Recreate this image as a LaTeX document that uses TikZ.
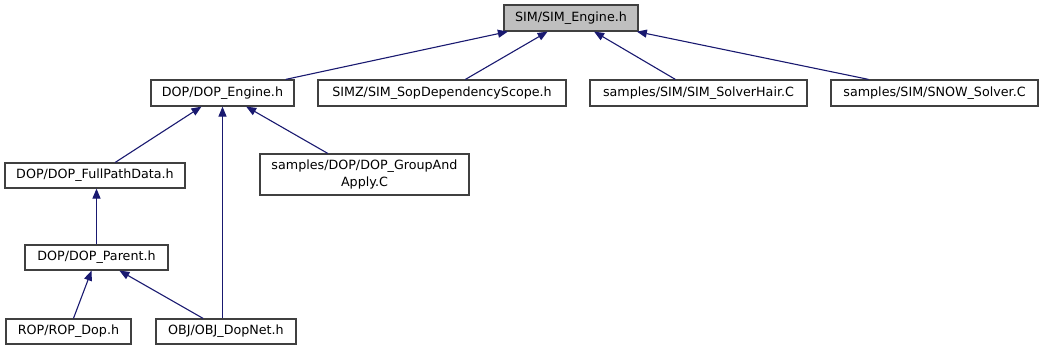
\documentclass[tikz,border=0pt]{standalone}
\usepackage{fontspec}
\setmainfont{DejaVu Sans}
\usetikzlibrary{arrows.meta}
\definecolor{edgeblue}{HTML}{191970}
\definecolor{boxgray}{HTML}{404040}
\definecolor{rootfill}{HTML}{BFBFBF}
\tikzset{
  file/.style={draw=boxgray, line width=1.2pt, fill=white, inner sep=0pt,
    minimum height=25pt, align=center, font=\fontsize{12.7}{17}\selectfont},
  rootfile/.style={file, fill=rootfill},
  incl/.style={draw=edgeblue, line width=1.1pt,
    -{Triangle[length=10pt,width=8pt]}}
}
\begin{document}
\begin{tikzpicture}[x=1pt,y=-1pt]
\useasboundingbox (0,0) rectangle (1049,351);
\node[rootfile, minimum width=134pt, minimum height=26pt] (simeng) at (571,18) {SIM/SIM\_Engine.h};
\node[file, minimum width=143pt, minimum height=26pt] (dopeng) at (222.5,93) {DOP/DOP\_Engine.h};
\node[file, minimum width=248pt, minimum height=26pt] (sopdep) at (442,93) {SIMZ/SIM\_SopDependencyScope.h};
\node[file, minimum width=217pt, minimum height=26pt] (hair) at (698.5,93) {samples/SIM/SIM\_SolverHair.C};
\node[file, minimum width=207pt, minimum height=26pt] (snow) at (934.5,93) {samples/SIM/SNOW\_Solver.C};
\node[file, minimum width=180pt] (fullpath) at (95,175.5) {DOP/DOP\_FullPathData.h};
\node[file, minimum width=209pt, minimum height=41pt] (groupapply) at (364.5,174.5) {samples/DOP/DOP\_GroupAnd\\Apply.C};
\node[file, minimum width=143pt] (parent) at (96.5,257.5) {DOP/DOP\_Parent.h};
\node[file, minimum width=125pt] (ropdop) at (68.5,331.5) {ROP/ROP\_Dop.h};
\node[file, minimum width=140pt] (objdop) at (226,331.5) {OBJ/OBJ\_DopNet.h};
\draw[incl] (dopeng) -- (simeng);
\draw[incl] (sopdep) -- (simeng);
\draw[incl] (hair) -- (simeng);
\draw[incl] (snow) -- (simeng);
\draw[incl] (fullpath) -- (dopeng);
\draw[incl] (objdop.north -| dopeng.south) -- (dopeng);
\draw[incl] (groupapply) -- (dopeng);
\draw[incl] (parent) -- (parent |- fullpath.south);
\draw[incl] (ropdop) -- (parent);
\draw[incl] (objdop) -- (parent);
\end{tikzpicture}
\end{document}
